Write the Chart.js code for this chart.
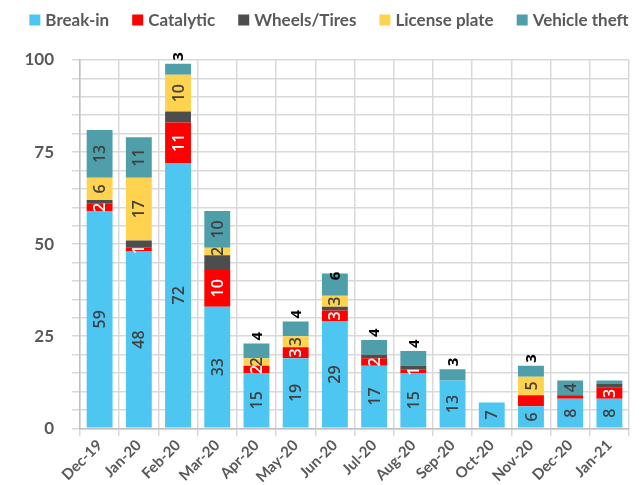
<!DOCTYPE html>
<html>
<head>
<meta charset="utf-8">
<script src="https://cdn.jsdelivr.net/npm/chart.js@4"></script>
<style>
  html, body { margin: 0; padding: 0; background: #ffffff; }
  #wrap { width: 642px; height: 485px; position: relative; }
</style>
</head>
<body>
<div id="wrap"><canvas id="c" width="642" height="485"></canvas></div>
<script>
const categories = ['Dec-19','Jan-20','Feb-20','Mar-20','Apr-20','May-20','Jun-20','Jul-20','Aug-20','Sep-20','Oct-20','Nov-20','Dec-20','Jan-21'];
const breakIn   = [59, 48, 72, 33, 15, 19, 29, 17, 15, 13, 7, 6, 8, 8];
const catalytic = [2, 1, 11, 10, 2, 3, 3, 2, 1, 0, 0, 3, 1, 3];
const wheels    = [1, 2, 3, 4, 0, 0, 1, 1, 1, 0, 0, 0, 0, 1];
const license   = [6, 17, 10, 2, 2, 3, 3, 0, 0, 0, 0, 5, 0, 0];
const vehicle   = [13, 11, 3, 10, 4, 4, 6, 4, 4, 3, 0, 3, 4, 1];
const yTickLabels = [0, 25, 50, 75, 100];

// label display rules (which value labels are shown and where)
const hiddenLabels = { 1: ['Nov-20', 'Dec-20'], 2: 'all', 4: ['Jan-21'] };
const outsideLabels = ['Feb-20', 'Apr-20', 'May-20', 'Jul-20', 'Aug-20', 'Sep-20', 'Nov-20'];
const topLabels = ['Jun-20'];

const FONT = 'Lato, "Open Sans", sans-serif';
const NUMFONT = '"Open Sans", Lato, sans-serif';

const labelPlugin = {
  id: 'valueLabels',
  afterDatasetsDraw(chart) {
    const ctx = chart.ctx;
    chart.data.datasets.forEach((ds, d) => {
      const meta = chart.getDatasetMeta(d);
      const hid = hiddenLabels[d];
      if (hid === 'all') return;
      meta.data.forEach((bar, i) => {
        const v = ds.data[i];
        if (!v) return;
        const cat = categories[i];
        if (hid && hid.includes(cat)) return;
        const p = bar.getProps(['x', 'y', 'base'], true);
        let cy = (p.y + p.base) / 2;
        let color = d === 1 ? '#ffffff' : '#404040';
        let font = '600 16px ' + NUMFONT;
        const txt = String(v);
        ctx.save();
        if (d === 4 && outsideLabels.includes(cat)) {
          font = 'bold 15px ' + NUMFONT;
          ctx.font = font;
          const w = ctx.measureText(txt).width;
          cy = p.y - 3 - w / 2;
          color = '#000000';
        } else if (d === 4 && topLabels.includes(cat)) {
          font = 'bold 15px ' + NUMFONT;
          ctx.font = font;
          const w = ctx.measureText(txt).width;
          cy = p.y + w / 2 - 2;
          color = '#000000';
        }
        ctx.font = font;
        ctx.fillStyle = color;
        ctx.translate(p.x, cy);
        ctx.rotate(-Math.PI / 2);
        ctx.textAlign = 'center';
        ctx.textBaseline = 'middle';
        ctx.fillText(txt, 0, 1);
        ctx.restore();
      });
    });
  }
};

// single-row legend drawn at the top, centred like the reference
const legendPlugin = {
  id: 'rowLegend',
  afterDraw(chart) {
    const ctx = chart.ctx;
    const box = 11, boxGap = 5, itemGap = 23, cy = 20;
    ctx.save();
    ctx.font = 'bold 17px ' + FONT;
    const items = chart.data.datasets.map(ds => ({
      label: ds.label, color: ds.backgroundColor, w: ctx.measureText(ds.label).width
    }));
    const total = items.reduce((s, it) => s + box + boxGap + it.w, 0) + itemGap * (items.length - 1);
    let x = 329 - total / 2;
    ctx.textBaseline = 'middle';
    ctx.textAlign = 'left';
    items.forEach(it => {
      ctx.fillStyle = it.color;
      ctx.fillRect(x, cy - box / 2, box, box);
      ctx.fillStyle = '#595959';
      ctx.fillText(it.label, x + box + boxGap, cy + 1);
      x += box + boxGap + it.w + itemGap;
    });
    ctx.restore();
  }
};

const mk = (label, data, color) => ({
  label, data, backgroundColor: color, borderWidth: 0,
  barPercentage: 0.66, categoryPercentage: 1.0
});

new Chart(document.getElementById('c'), {
  type: 'bar',
  data: {
    labels: categories,
    datasets: [
      mk('Break-in', breakIn, '#4dc6f2'),
      mk('Catalytic', catalytic, '#ff0000'),
      mk('Wheels/Tires', wheels, '#4d4d4d'),
      mk('License plate', license, '#ffd24f'),
      mk('Vehicle theft', vehicle, '#4e9fa9')
    ]
  },
  options: {
    responsive: false,
    animation: false,
    layout: { padding: { left: 0, right: 13, top: 60, bottom: -1 } },
    plugins: {
      tooltip: { enabled: false },
      legend: { display: false }
    },
    scales: {
      x: {
        stacked: true,
        grid: { color: '#d9d9d9', lineWidth: 1.5, offset: true },
        border: { color: '#bfbfbf', width: 1.5 },
        ticks: {
          color: '#595959', maxRotation: 45, minRotation: 45, padding: 0,
          font: { family: FONT, size: 15, weight: 'bold' }
        }
      },
      y: {
        stacked: true, min: 0, max: 100,
        afterFit(s) { s.width = 80; },
        grid: { color: '#d9d9d9', lineWidth: 1.5 },
        border: { color: '#bfbfbf', width: 1.5 },
        ticks: {
          stepSize: 5, autoSkip: false, padding: 18,
          color: '#595959',
          font: { family: FONT, size: 17, weight: 'bold' },
          callback: (v) => yTickLabels.includes(v) ? String(v) : ''
        }
      }
    }
  },
  plugins: [labelPlugin, legendPlugin]
});
</script>
</body>
</html>
